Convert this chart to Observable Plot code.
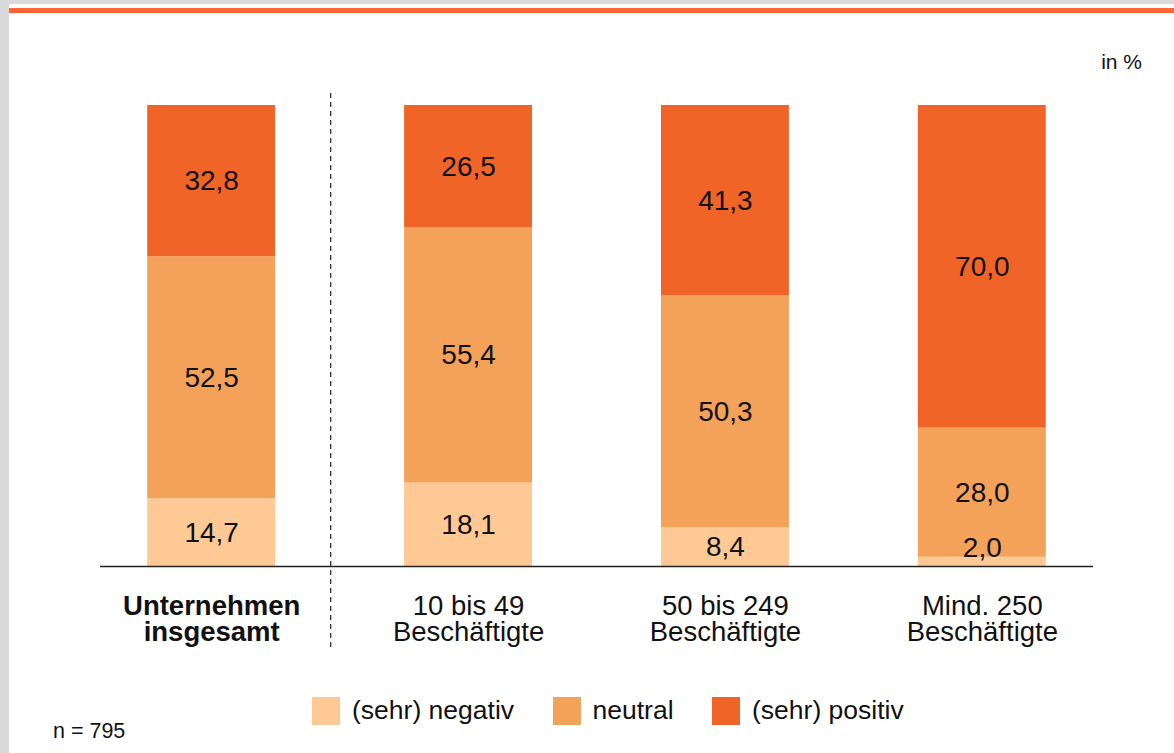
<!DOCTYPE html>
<html>
<head>
<meta charset="utf-8">
<script src="https://cdn.jsdelivr.net/npm/d3@7"></script>
<script src="https://cdn.jsdelivr.net/npm/@observablehq/plot@0.6"></script>
<style>
  html, body { margin: 0; padding: 0; width: 1174px; height: 753px; overflow: hidden; background: #d9d9d9; font-family: "Liberation Sans", Arial, sans-serif; }
  #panel { position: absolute; left: 9px; top: 4px; right: 0; bottom: 0; background: #fff; }
  #topline { position: absolute; left: 9px; top: 8px; right: 0; height: 5px; background: #ff6633; }
  #chart { position: absolute; left: 0; top: 0; }
  #unit { position: absolute; right: 32px; top: 50px; font-size: 21px; color: #111; }
  #note { position: absolute; left: 53px; top: 719px; font-size: 21.5px; color: #111; }
  #legend { position: absolute; left: 312px; top: 695px; display: flex; align-items: center; font-size: 26.5px; color: #111; }
  .item { display: flex; align-items: center; margin-right: 38.5px; }
  .sw { width: 28px; height: 28px; margin-right: 12px; }
</style>
</head>
<body>
<div id="panel"></div>
<div id="topline"></div>
<div id="chart"></div>
<div id="unit">in %</div>
<div id="note">n = 795</div>
<div id="legend"></div>
<script>
// Data
const categories = ["Unternehmen insgesamt", "10 bis 49 Beschäftigte", "50 bis 249 Beschäftigte", "Mind. 250 Beschäftigte"];
const categoryLabels = ["Unternehmen\ninsgesamt", "10 bis 49\nBeschäftigte", "50 bis 249\nBeschäftigte", "Mind. 250\nBeschäftigte"];
const responses = ["(sehr) negativ", "neutral", "(sehr) positiv"];
const colors = ["#fec994", "#f4a159", "#f06427"];
const negativ = [14.7, 18.1, 8.4, 2.0];
const neutral = [52.5, 55.4, 50.3, 28.0];
const positiv = [32.8, 26.5, 41.3, 70.0];

const series = [negativ, neutral, positiv];
const data = [];
categories.forEach((c, i) => {
  responses.forEach((r, j) => data.push({cat: c, resp: r, value: series[j][i]}));
});
const fmt = v => v.toFixed(1).replace(".", ",");
const font = "Liberation Sans, Arial, sans-serif";

const chart = Plot.plot({
  width: 1174,
  height: 753,
  marginLeft: 83,
  marginRight: 64,
  marginTop: 105,
  marginBottom: 187,
  style: {background: "none", fontFamily: font},
  x: {domain: categories, paddingInner: 0.502, paddingOuter: 0.25, round: false, axis: null},
  y: {domain: [0, 100], axis: null},
  color: {domain: responses, range: colors},
  marks: [
    Plot.barY(data, {x: "cat", y: "value", fill: "resp", order: responses}),
    // labels centred in segments (large enough segments)
    Plot.text(data, Plot.stackY({x: "cat", y: "value", z: "resp", order: responses, text: d => d.value >= 5 ? fmt(d.value) : "", fontSize: 28, fill: "#111"})),
    // labels just above very thin segments
    Plot.text(data, Plot.stackY2({x: "cat", y: "value", z: "resp", order: responses, text: d => d.value < 5 ? fmt(d.value) : "", fontSize: 28, fill: "#111", dy: -9})),
    Plot.ruleY([0], {stroke: "#222", strokeWidth: 1.6, insetLeft: 17, insetRight: 17}),
    Plot.ruleX([categories[0]], {dx: 119, stroke: "#333", strokeWidth: 1.3, strokeDasharray: "5,4", insetTop: -12, insetBottom: -82}),
    Plot.text(categories.slice(0, 1), {x: d => d, y: () => 0, text: d => categoryLabels[categories.indexOf(d)], fontSize: 27.5, fontWeight: "bold", lineHeight: 0.95, dy: 53, fill: "#111"}),
    Plot.text(categories.slice(1), {x: d => d, y: () => 0, text: d => categoryLabels[categories.indexOf(d)], fontSize: 27.5, lineHeight: 0.95, dy: 53, fill: "#111"})
  ]
});
document.getElementById("chart").appendChild(chart);

const legend = document.getElementById("legend");
responses.forEach((r, i) => {
  const item = document.createElement("div");
  item.className = "item";
  const sw = document.createElement("div");
  sw.className = "sw";
  sw.style.background = colors[i];
  const label = document.createElement("span");
  label.textContent = r;
  item.appendChild(sw);
  item.appendChild(label);
  legend.appendChild(item);
});
</script>
</body>
</html>
